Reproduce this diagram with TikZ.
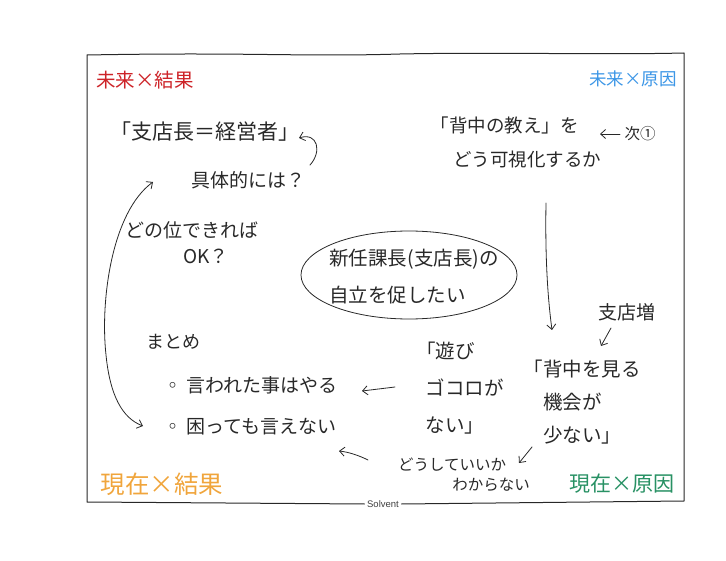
\documentclass[tikz,border=0pt]{standalone}
\usepackage{fontspec}
\setmainfont{Noto Sans CJK JP}
\newfontfamily\latinsans{Liberation Sans}
\usetikzlibrary{arrows.meta,shapes.geometric}
\definecolor{ink}{RGB}{40,40,40}
\definecolor{redlab}{RGB}{205,35,40}
\definecolor{bluelab}{RGB}{60,150,230}
\definecolor{orangelab}{RGB}{240,165,60}
\definecolor{greenlab}{RGB}{40,145,100}
\begin{document}
\begin{tikzpicture}[x=1pt,y=-1pt,
  hand/.style={draw=ink, line width=0.8pt, line cap=round, line join=round},
  arr/.style={hand, -{Straight Barb[length=5pt,width=9pt]}},
  darr/.style={hand, {Straight Barb[length=5pt,width=9pt]}-{Straight Barb[length=5pt,width=9pt]}},
  txt/.style={inner sep=0pt, text=ink, font=\fontsize{19}{26}\selectfont},
  lab/.style={inner sep=0pt, font=\fontsize{19.5}{22}\selectfont}]
\useasboundingbox (0,0) rectangle (726,561);
% frame
\coordinate (tl) at (87,55);
\coordinate (tr) at (684,53);
\coordinate (br) at (684,501);
\coordinate (bl) at (87,502);
\node[inner sep=2.5pt, font=\latinsans\fontsize{9.5}{11}\selectfont, text=black!75] (solv) at (383,504) {Solvent};
\draw[hand, line width=1pt] (solv.west) -- (bl) -- (tl) .. controls (250,52) and (300,57) .. (400,54) .. controls (500,52) and (600,55) .. (tr) -- (br) -- (solv.east);
% quadrant labels
\node[lab, text=redlab] (q1) at (145,80) {未来×結果};
\node[lab, text=bluelab, font=\fontsize{17.5}{20}\selectfont] (q2) at (633,79) {未来×原因};
\node[lab, text=orangelab, font=\fontsize{24.5}{28}\selectfont] (q3) at (162,484) {現在×結果};
\node[lab, text=greenlab, font=\fontsize{21}{24}\selectfont] (q4) at (622,484) {現在×原因};
% top left
\node[txt, font=\fontsize{21}{26}\selectfont] (shitencho) at (205,132) {「支店長＝経営者」};
\node[txt] (gutai) at (248,180) {具体的には？};
\node[txt, align=center] (donokurai) at (192,243) {どの位できれば\\\hspace*{1.5em}OK？};
% top right
\node[txt, align=left, font=\fontsize{18.5}{34}\selectfont] (senaka) at (516,142) {「背中の教え」を\\\hspace*{1.2em}どう可視化するか};
\coordinate (tsugiA) at (620,134);
\coordinate (tsugiB) at (600,134);
\node[txt, font=\fontsize{15.5}{18}\selectfont] (tsugi) at (640,134) {次①};
% center
\node[hand, ellipse, minimum width=216pt, minimum height=88pt, inner sep=0pt] (center) at (409,275) {};
\node[txt, align=left, font=\fontsize{19.5}{37}\selectfont] (centertxt) at (414,277) {新任課長(支店長)の\\自立を促したい};
% right middle
\node[txt, font=\fontsize{19}{22}\selectfont] (shitenzo) at (627,312) {支店増};
\node[txt, align=left, font=\fontsize{19.5}{33}\selectfont] (miru) at (582,402) {「背中を見る\\\hspace*{1em}機会が\\\hspace*{1em}少ない」};
\node[txt, align=left, font=\fontsize{19.5}{37}\selectfont] (asobi) at (460,388) {「遊び\\\hspace*{0.5em}ゴコロが\\\hspace*{0.5em}ない」};
\node[txt, align=left, font=\fontsize{15.5}{20}\selectfont] (doshite) at (464,475) {どうしていいか\\\hspace*{3.5em}わからない};
% bottom left
\node[txt, font=\fontsize{18}{22}\selectfont] (matome) at (173,342) {まとめ};
\node[txt, anchor=west] (b1) at (163,385) {◦ 言われた事はやる};
\node[txt, anchor=west] (b2) at (163,427) {◦ 困っても言えない};
% connectors
\coordinate (c1s) at (310,165);
\coordinate (c1e) at (299,138);
\draw[arr] (c1s) .. controls (322,152) and (318,132) .. (c1e);
\coordinate (lt) at (153,182);
\coordinate (lb) at (143,426);
\draw[darr] (lt) .. controls (112,212) and (100,300) .. (106,355) .. controls (110,395) and (122,418) .. (lb);
\draw[arr] (tsugiA) -- (tsugiB);
\coordinate (vA) at (546,203);
\coordinate (vB) at (552,330);
\draw[arr] (vA) .. controls (545,260) and (548,300) .. (vB);
\coordinate (sA) at (611,328);
\coordinate (sB) at (601,346);
\draw[arr] (sA) -- (sB);
\coordinate (hA) at (395,387);
\coordinate (hB) at (362,391);
\draw[arr] (hA) -- (hB);
\coordinate (dA) at (532,447);
\coordinate (dB) at (519,463);
\draw[arr] (dA) -- (dB);
\coordinate (eA) at (368,460);
\coordinate (eB) at (339,451);
\draw[arr] (eA) .. controls (358,455) and (348,452) .. (eB);
\end{tikzpicture}
\end{document}
